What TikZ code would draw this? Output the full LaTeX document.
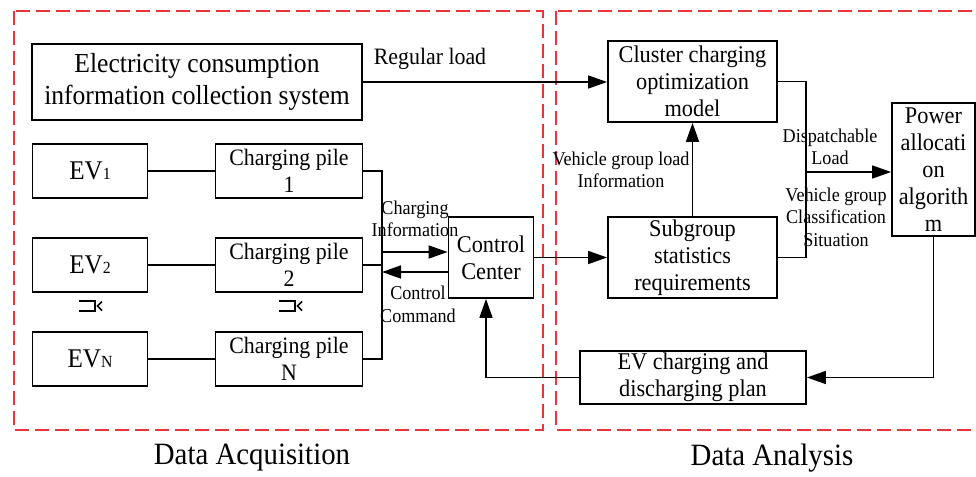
\documentclass[tikz,border=0pt]{standalone}
\usepackage{fontspec}
\setmainfont{Liberation Serif}[FakeStretch=0.93]
\usetikzlibrary{arrows.meta,calc}
\definecolor{dashred}{RGB}{233,52,58}
\newcommand\fsz[2]{\fontsize{#1}{#2}\selectfont}
\newcommand\evsub[1]{{\fontsize{17}{17}\selectfont #1}}
\tikzset{
  box/.style 2 args={draw, line width=1.8pt, minimum width=#1pt, minimum height=#2pt,
    align=center, inner sep=0pt, font=\fsz{24}{27}},
  lbl/.style={align=center, inner sep=0pt, font=\fsz{19.5}{22.5}},
  conn/.style={line width=1.6pt},
  arr/.style={conn, -{Triangle[length=19pt,width=13pt]}},
  dashbox/.style={draw=dashred, line width=1.6pt, dash pattern=on 14pt off 6pt},
  title/.style={inner sep=0pt, font=\fsz{31}{34}},
  vd/.pic={
    \draw[line width=2.6pt] (-11,-5) -- (5,-5) -- (5,5) -- (-11,5);
    \draw[line width=1.6pt] (12,-4.5) -- (7.5,0) -- (12,4.5);
  }
}
\begin{document}
\begin{tikzpicture}[x=1pt,y=-1pt]
\clip (0,0) rectangle (976,476);
\draw[dashbox] (14,11) rectangle (543,430);
\draw[dashbox] (556,11) rectangle (995,430);

% top row
\node[box={330}{76}, font=\fsz{27.5}{32}] (elec) at (197,82) {Electricity consumption\\information collection system};
\node[box={169}{81}] (clu) at (692.5,81.5) {Cluster charging\\optimization\\model};
\draw[arr] (elec.east) -- (clu.west |- elec.east);
\node[lbl, font=\fsz{23.5}{26}] (rl) at (430,59) {Regular load};

% EVs and piles
\node[box={115}{54}, font=\fsz{27}{30}] (ev1) at (90,171) {EV\evsub{1}};
\node[box={115}{54}, font=\fsz{27}{30}] (ev2) at (90,265) {EV\evsub{2}};
\node[box={115}{54}, font=\fsz{27}{30}] (evn) at (90,359) {EV\evsub{N}};
\node[box={147}{54}, font=\fsz{23.5}{27}] (p1) at (289,171) {Charging pile\\1};
\node[box={147}{54}, font=\fsz{23.5}{27}] (p2) at (289,265) {Charging pile\\2};
\node[box={147}{54}, font=\fsz{23.5}{27}] (pn) at (289,359) {Charging pile\\N};
\draw[conn] (ev1) -- (p1);
\draw[conn] (ev2) -- (p2);
\draw[conn] (evn) -- (pn);
\pic at (90,306) {vd};
\pic at (290,306) {vd};

\coordinate (bt) at (382,171);
\coordinate (bb) at (382,359);
\draw[conn] (p1.east) -- (bt) -- (bb) -- (pn.east);
\draw[conn] (p2.east) -- (p2.east -| bt);

% control center
\node[box={85}{81}] (cc) at (491,257.5) {Control\\Center};
\coordinate (ci) at (382,252);
\coordinate (cm) at (382,272);
\draw[arr] (ci) -- (ci -| cc.west);
\draw[arr] (cm -| cc.west) -- (cm);
\node[lbl] (cil) at (415,219) {Charging\\Information};
\node[lbl] (cml) at (418,304.5) {Control\\Command};

% analysis
\node[box={169}{81}] (sg) at (692.5,257.5) {Subgroup\\statistics\\requirements};
\draw[arr] (cc.east) -- (sg.west);
\draw[arr] (sg.north) -- (clu.south);
\node[lbl] (vgl) at (621,170) {Vehicle group load\\Information};

\node[box={83}{133}] (pw) at (933.5,169.5) {Power\\allocati\\on\\algorith\\m};
\coordinate (jx) at (806,172);
\draw[conn] (clu.east) -| (jx) |- (sg.east);
\draw[arr] (jx) -- (jx -| pw.west);
\node[lbl] (dl) at (830,147) {Dispatchable\\Load};
\node[lbl] (vgc) at (836,217) {Vehicle group\\Classification\\Situation};

\node[box={226}{53}] (plan) at (693,377.5) {EV charging and\\discharging plan};
\draw[arr] (pw.south) |- (plan.east);
\draw[arr] (plan.west) -| ([xshift=-5pt]cc.south);

% titles
\node[title] (ta) at (252,458) {Data Acquisition};
\node[title] (tb) at (772,458) {Data Analysis};
\end{tikzpicture}
\end{document}
